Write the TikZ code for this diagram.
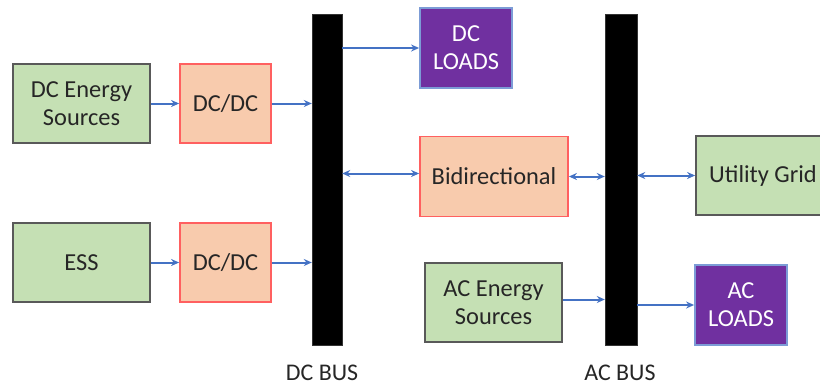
\documentclass[tikz,border=0pt]{standalone}
\usepackage{fontspec}
\setmainfont{Carlito}
\usetikzlibrary{arrows.meta}
\definecolor{srcgreen}{HTML}{C5E0B4}
\definecolor{srcborder}{HTML}{595959}
\definecolor{convfill}{HTML}{F8CBAD}
\definecolor{convborder}{HTML}{FF6060}
\definecolor{loadfill}{HTML}{7030A0}
\definecolor{loadborder}{HTML}{4472C4}
\definecolor{arrowblue}{HTML}{4472C4}
\definecolor{txt}{HTML}{262626}
\tikzset{
  base/.style={rectangle, line width=1.8bp, align=center, inner sep=2bp,
    font=\fontsize{24.5}{28}\selectfont, text=txt},
  srcbox/.style={base, fill=srcgreen, draw=srcborder},
  convbox/.style={base, fill=convfill, draw=convborder},
  loadbox/.style={base, fill=loadfill, draw=loadborder!70, text=white},
  busbar/.style={rectangle, fill=black, draw=black!80, minimum width=30bp, minimum height=331bp, inner sep=0pt},
  buslabel/.style={font=\fontsize{24}{28}\selectfont, text=txt, inner sep=0pt, anchor=base},
  flow/.style={draw=arrowblue, line width=2bp, -{Stealth[length=8bp,width=7bp]}},
  biflow/.style={draw=arrowblue, line width=2bp, {Stealth[length=8bp,width=7bp]}-{Stealth[length=8bp,width=7bp]}}
}
\begin{document}
\begin{tikzpicture}[x=1bp,y=-1bp]
\useasboundingbox (0,0) rectangle (820,385);
\node[srcbox, minimum width=137bp, minimum height=79bp] (dces) at (81.5,103.5) {DC Energy\\Sources};
\node[convbox, minimum width=91bp, minimum height=79bp] (dcdc1) at (225.5,103.5) {DC/DC};
\node[srcbox, minimum width=137bp, minimum height=79bp] (ess) at (81.5,262.5) {ESS};
\node[convbox, minimum width=91bp, minimum height=79bp] (dcdc2) at (225.5,262.5) {DC/DC};
\node[busbar] (dcbus) at (327,179.5) {};
\node[loadbox, minimum width=92bp, minimum height=80bp] (dcloads) at (466,48) {DC\\LOADS};
\node[convbox, minimum width=148bp, minimum height=80bp] (bidir) at (494,176.5) {Bidirectional};
\node[busbar, minimum width=32bp] (acbus) at (621,179.5) {};
\node[srcbox, minimum width=134bp, minimum height=79bp] (grid) at (763,175.5) {Utility Grid};
\node[srcbox, minimum width=137bp, minimum height=79bp] (aces) at (493.5,302.5) {AC Energy\\Sources};
\node[loadbox, minimum width=92bp, minimum height=80bp] (acloads) at (741,305) {AC\\LOADS};
\node[buslabel] (dcbuslabel) at (322,380) {DC BUS};
\node[buslabel] (acbuslabel) at (620,380) {AC BUS};

\draw[flow] (dces.east) -- (dcdc1.west);
\draw[flow] (ess.east) -- (dcdc2.west);
\draw[flow] (dcdc1.east) -- (dcdc1.east -| dcbus.west);
\draw[flow] (dcdc2.east) -- (dcdc2.east -| dcbus.west);
\draw[flow] (dcloads.west -| dcbus.east) -- (dcloads.west);
\draw[biflow] ([yshift=3bp]bidir.west -| dcbus.east) -- ([yshift=3bp]bidir.west);
\draw[biflow] (bidir.east) -- (bidir.east -| acbus.west);
\draw[biflow] (grid.west -| acbus.east) -- (grid.west);
\draw[flow] ([yshift=3bp]aces.east) -- ([yshift=3bp]aces.east -| acbus.west);
\draw[flow] (acloads.west -| acbus.east) -- (acloads.west);
\end{tikzpicture}
\end{document}
